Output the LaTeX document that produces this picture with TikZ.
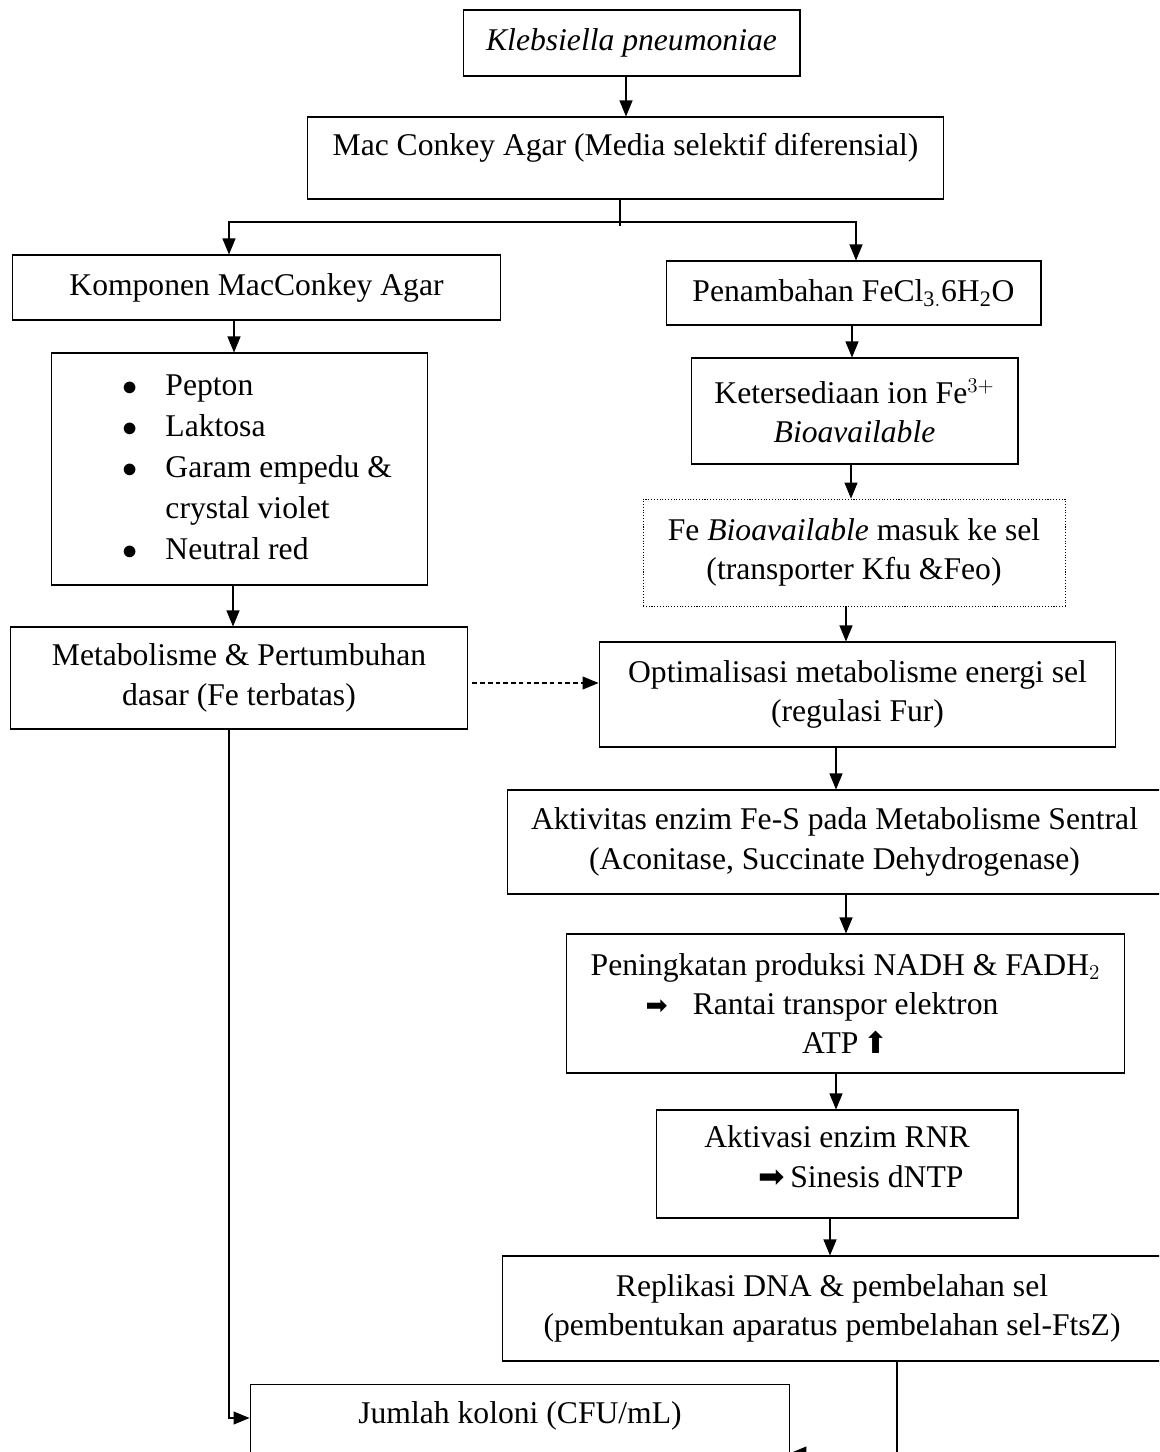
\documentclass[tikz,border=0pt]{standalone}
\usepackage{fontspec}
\setmainfont{Liberation Serif}
\newfontfamily\arrowfont{DejaVu Sans}
\usepackage{tikz}
\usetikzlibrary{arrows.meta,calc,positioning}
\tikzset{%
	block/.style    = {draw, rectangle, line width=0.6pt, align=center, inner sep=0pt, font=\fontsize{18}{22.4}\selectfont},
	dotblock/.style = {block, densely dotted, line width=0.45pt}, % dotted box
	arrow/.style    = {line width=0.6pt, -{Triangle[length=0.32cm,width=0.26cm]}},
	dasharrow/.style= {arrow, dash pattern=on 2.6pt off 1.8pt},
}

\begin{document}
\begin{tikzpicture}[x=0.02cm,y=-0.02cm]
	\useasboundingbox (0,0) rectangle (1159,1452);
	\clip (0,0) rectangle (1159,1452);
	
	\node[block, minimum width=6.74cm, minimum height=1.32cm] (kleb) at (631.5,43) {\textit{Klebsiella pneumoniae}};
	\node[block, minimum width=12.74cm, minimum height=1.64cm, text depth=0.53cm] (mac) at (625.5,158) {Mac Conkey Agar (Media selektif diferensial)};
	\node[block, minimum width=9.78cm, minimum height=1.3cm] (komp) at (256.5,287.5) {Komponen MacConkey Agar};
	\node[block, minimum width=7.5cm, minimum height=1.28cm] (penam) at (853.5,293) {Penambahan $\mathrm{FeCl_{3.}6H_{2}O}$};
	\node[block, minimum width=7.54cm, minimum height=4.64cm] (bahan) at (239.5,469) {\hspace*{0.72cm}{\renewcommand\arraystretch{1.04}%
		\begin{tabular}{@{}l@{}l@{}}
			\makebox[0.85cm][l]{$\bullet$} & Pepton\\
			\makebox[0.85cm][l]{$\bullet$} & Laktosa\\
			\makebox[0.85cm][l]{$\bullet$} & Garam empedu \&\\
			 & crystal violet\\
			\makebox[0.85cm][l]{$\bullet$} & Neutral red
		\end{tabular}}};
	\node[block, minimum width=9.16cm, minimum height=2.04cm] (metab) at (239,678) {Metabolisme \& Pertumbuhan\\dasar (Fe terbatas)};
	\node[block, minimum width=6.54cm, minimum height=2.12cm] (keter) at (854.5,411) {Ketersediaan ion Fe$^{3+}$\\\textit{Bioavailable}};
	\node[dotblock, minimum width=8.44cm, minimum height=2.14cm] (masuk) at (854,552.5) {Fe \textit{Bioavailable} masuk ke sel\\(transporter Kfu \&Feo)};
	\node[block, minimum width=10.34cm, minimum height=2.1cm] (optim) at (857.5,694.5) {Optimalisasi metabolisme energi sel\\(regulasi Fur)};
	\node[block, minimum width=13.1cm, minimum height=2.08cm] (fes) at (834.5,842) {Aktivitas enzim Fe-S pada Metabolisme Sentral\\(Aconitase, Succinate Dehydrogenase)};
	\node[block, minimum width=11.18cm, minimum height=2.78cm] (nadh) at (845.5,1003.5) {Peningkatan produksi NADH \& FADH$_2$\\
		{\arrowfont\fontsize{15}{15}\selectfont ➡}\hspace{0.5cm}Rantai transpor elektron\hspace{0.94cm}\mbox{}\\
		ATP\,{\arrowfont\fontsize{17}{17}\selectfont ⬆}};
	\node[block, minimum width=7.24cm, minimum height=2.16cm, text depth=0.3cm] (rnr) at (837,1164) {Aktivasi enzim RNR\\
		\hspace*{0.96cm}{\arrowfont\fontsize{18}{18}\selectfont ➡}\,Sinesis dNTP};
	\node[block, minimum width=13.2cm, minimum height=2.1cm] (repl) at (832,1308.5) {Replikasi DNA \& pembelahan sel\\(pembentukan aparatus pembelahan sel-FtsZ)};
	\node[block, anchor=north, minimum width=10.8cm, minimum height=1.72cm, text depth=0.61cm] (jumlah) at (520,1384) {Jumlah koloni (CFU/mL)};
	
	\coordinate (split) at (620,222);
	\draw[arrow] (626,0 |- kleb.south) -- (626,0 |- mac.north);
	\draw[line width=0.6pt] (split |- mac.south) -- ([yshift=-0.08cm]split);
	\draw[arrow] (split) -| (229,0 |- komp.north);
	\draw[arrow] (split) -| (856,0 |- penam.north);
	\draw[arrow] (234,0 |- komp.south) -- (234,0 |- bahan.north);
	\draw[arrow] (233,0 |- bahan.south) -- (233,0 |- metab.north);
	\draw[dasharrow] ([xshift=0.08cm]metab.east |- 0,683) -- (optim.west |- 0,683);
	\draw[arrow] (852,0 |- penam.south) -- (852,0 |- keter.north);
	\draw[arrow] (851,0 |- keter.south) -- (851,0 |- masuk.north);
	\draw[arrow] (846,0 |- masuk.south) -- (846,0 |- optim.north);
	\draw[arrow] (836,0 |- optim.south) -- (836,0 |- fes.north);
	\draw[arrow] (846,0 |- fes.south) -- (846,0 |- nadh.north);
	\draw[arrow] (836,0 |- nadh.south) -- (836,0 |- rnr.north);
	\draw[arrow] (830,0 |- rnr.south) -- (830,0 |- repl.north);
	\draw[arrow] (229,0 |- metab.south) |- (jumlah.west |- 0,1418);
	\draw[arrow] (897,0 |- repl.south) |- (jumlah.east |- 0,1453);
\end{tikzpicture}
\end{document}
